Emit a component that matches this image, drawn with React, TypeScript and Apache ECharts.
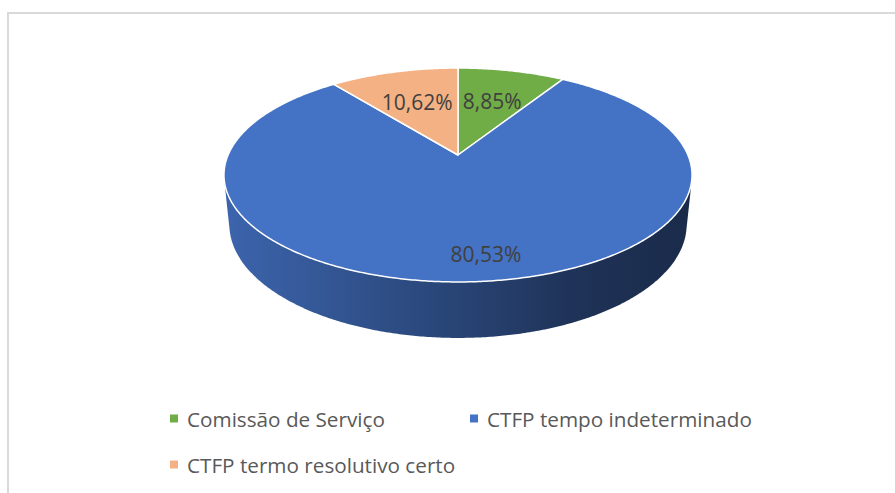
import React, { useEffect, useRef } from "react";
import * as echarts from "echarts";

// ---- data ----
const categories: string[] = [
  "Comissão de Serviço",
  "CTFP tempo indeterminado",
  "CTFP termo resolutivo certo",
];
const values: number[] = [10, 91, 12];
const colors: string[] = ["#70AD47", "#4472C4", "#F4B183"];

// ---- 3D projection (layout only) ----
const GEO = { cx: 458, cy: 155, f: 1099, D: 4.78, sinA: 0.449, cosA: 0.893, H: 0.242 };

function proj(X: number, Y: number, Z: number): number[] {
  const d = GEO.D - (Y * GEO.sinA + Z * GEO.cosA);
  const up = Y * GEO.cosA - Z * GEO.sinA;
  return [GEO.cx + (GEO.f * X) / d, GEO.cy - (GEO.f * up) / d];
}

function ring(a0: number, a1: number, Y: number, r = 1): number[][] {
  const pts: number[][] = [];
  const n = Math.max(2, Math.ceil((a1 - a0) / (Math.PI / 360)));
  for (let i = 0; i <= n; i++) {
    const t = a0 + ((a1 - a0) * i) / n;
    pts.push(proj(r * Math.sin(t), Y, -r * Math.cos(t)));
  }
  return pts;
}

function hull(points: number[][]): number[][] {
  const p = points.slice().sort((a, b) => (a[0] === b[0] ? a[1] - b[1] : a[0] - b[0]));
  const cross = (o: number[], a: number[], b: number[]) =>
    (a[0] - o[0]) * (b[1] - o[1]) - (a[1] - o[1]) * (b[0] - o[0]);
  const lower: number[][] = [];
  for (const pt of p) {
    while (lower.length >= 2 && cross(lower[lower.length - 2], lower[lower.length - 1], pt) <= 0) lower.pop();
    lower.push(pt);
  }
  const upper: number[][] = [];
  for (let i = p.length - 1; i >= 0; i--) {
    const pt = p[i];
    while (upper.length >= 2 && cross(upper[upper.length - 2], upper[upper.length - 1], pt) <= 0) upper.pop();
    upper.push(pt);
  }
  upper.pop();
  lower.pop();
  return lower.concat(upper);
}

function shade(hex: string, k: number): string {
  const n = parseInt(hex.slice(1), 16);
  const r = Math.round(((n >> 16) & 255) * k);
  const g = Math.round(((n >> 8) & 255) * k);
  const b = Math.round((n & 255) * k);
  return `rgb(${r},${g},${b})`;
}

const total = values.reduce((a, b) => a + b, 0);
function angleRange(i: number): number[] {
  let acc = 0;
  for (let j = 0; j < i; j++) acc += values[j];
  const a0 = (acc / total) * Math.PI * 2;
  const a1 = ((acc + values[i]) / total) * Math.PI * 2;
  return [a0, a1];
}

function pctLabel(v: number): string {
  return ((v / total) * 100).toFixed(2).replace(".", ",") + "%";
}

export default function App() {
  const ref = useRef<HTMLDivElement>(null);
  useEffect(() => {
    document.body.style.margin = "0";
    if (!ref.current) return;
    const chart = echarts.init(ref.current, undefined, { renderer: "svg" });
    const legendBase = {
      orient: "horizontal",
      icon: "rect",
      itemWidth: 8,
      itemHeight: 8,
      padding: 0,
      selectedMode: false,
      textStyle: {
        fontFamily: "Open Sans",
        fontSize: 20.7,
        color: "#595959",
        padding: [0, 0, 0, 4],
      },
    };
    const option: any = {
      animation: false,
      backgroundColor: "#ffffff",
      graphic: [
        {
          type: "rect",
          silent: true,
          shape: { x: 8, y: 13, width: 1000, height: 1000 },
          style: { fill: "none", stroke: "#d9d9d9", lineWidth: 2 },
        },
      ],
      legend: [
        { ...legendBase, data: [categories[0]], left: 170, top: 408 },
        { ...legendBase, data: [categories[1]], left: 470, top: 408 },
        { ...legendBase, data: [categories[2]], left: 170, top: 454 },
      ],
      series: [
        {
          type: "pie",
          name: "legend",
          radius: [0, 0],
          center: [-100, -100],
          silent: true,
          label: { show: false },
          labelLine: { show: false },
          data: categories.map((n, i) => ({ name: n, value: values[i], itemStyle: { color: colors[i] } })),
        },
        {
          type: "custom",
          name: "walls",
          coordinateSystem: "none",
          silent: true,
          z: 1,
          data: values.map((v) => [v]),
          renderItem: (params: any) => {
            const i = params.dataIndex;
            const [a0, a1] = angleRange(i);
            const pts = hull(ring(a0, a1, 0).concat(ring(a0, a1, -GEO.H)));
            const xl = proj(-1, 0, 0)[0];
            const xr = proj(1, 0, 0)[0];
            return {
              type: "polygon",
              shape: { points: pts },
              style: {
                fill: new echarts.graphic.LinearGradient(
                  xl,
                  0,
                  xr,
                  0,
                  [
                    { offset: 0, color: shade(colors[i], 0.88) },
                    { offset: 0.45, color: shade(colors[i], 0.62) },
                    { offset: 0.75, color: shade(colors[i], 0.45) },
                    { offset: 1, color: shade(colors[i], 0.38) },
                  ],
                  true
                ),
              },
            };
          },
        },
        {
          type: "custom",
          name: "tops",
          coordinateSystem: "none",
          silent: true,
          z: 2,
          data: values.map((v) => [v]),
          renderItem: (params: any, api: any) => {
            const i = params.dataIndex;
            const v = api.value(0);
            const [a0, a1] = angleRange(i);
            const pts = [proj(0, 0, 0)].concat(ring(a0, a1, 0));
            // label direction: Excel places it along the mid-angle of the slice on screen
            const big = v / total > 0.5;
            const mid = (a0 + a1) / 2 - (big ? 0.07 : 0);
            const rr = big ? 0.82 : 0.6;
            const lp = proj(rr * Math.sin(mid), 0, -rr * Math.cos(mid));
            return {
              type: "group",
              children: [
                {
                  type: "polygon",
                  shape: { points: pts },
                  style: { fill: colors[i], stroke: "#ffffff", lineWidth: 1.5, lineJoin: "round" },
                },
                {
                  type: "text",
                  x: lp[0],
                  y: lp[1],
                  z2: 10,
                  style: {
                    text: pctLabel(v),
                    fill: "#404040",
                    fontFamily: "Open Sans",
                    fontSize: 21,
                    align: "center",
                    verticalAlign: "middle",
                  },
                },
              ],
            };
          },
        },
      ],
    };
    chart.setOption(option);
    return () => chart.dispose();
  }, []);
  return <div ref={ref} style={{ width: 895, height: 493 }} />;
}
